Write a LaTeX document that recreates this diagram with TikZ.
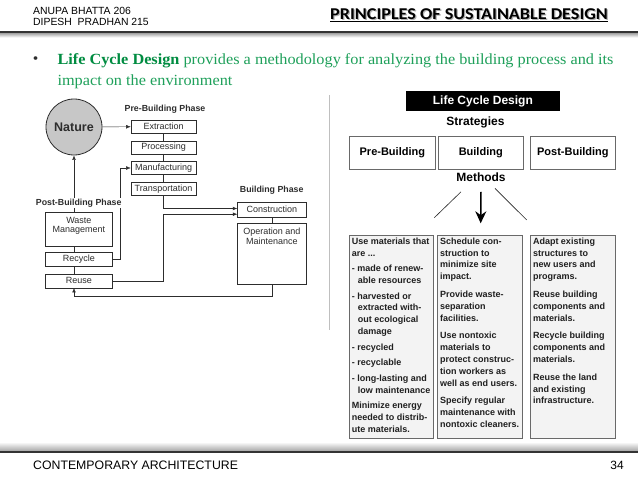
\documentclass[tikz,border=0pt]{standalone}
\usepackage{fontspec}
\setmainfont{Liberation Sans}
\newfontfamily\leadserif[FakeStretch=1.05]{Liberation Serif}
\newfontfamily\slidetitle[FakeStretch=1.1]{Carlito}
\usepackage{tikz}
\usetikzlibrary{arrows.meta,positioning,calc}
\usepackage{xcolor}
\definecolor{leafgreen}{RGB}{30,160,90}
\definecolor{leafdark}{RGB}{0,140,65}
\definecolor{inkgray}{RGB}{45,45,45}
\definecolor{panelgray}{RGB}{243,243,243}
\definecolor{rulegray}{RGB}{105,105,105}

\begin{document}
\begin{tikzpicture}[x=1pt, y=-1pt,
  node distance=7.5pt,
  stage/.style={draw=inkgray, fill=white, inner sep=0pt, minimum width=65.3pt,
                minimum height=12.8pt, font=\fontsize{9}{9.4}\selectfont, text=inkgray},
  phase/.style={inner sep=1pt, font=\bfseries\fontsize{8.8}{10}\selectfont, text=inkgray},
  inbox/.style={anchor=north, align=center, inner sep=5pt,
                font=\fontsize{9}{9.4}\selectfont, text=inkgray},
  strat/.style={draw=rulegray, semithick, inner sep=0pt, minimum width=85.5pt,
                minimum height=33.3pt, font=\bfseries\fontsize{11}{12}\selectfont},
  method/.style={draw=rulegray, semithick, fill=panelgray, inner sep=0pt,
                 minimum width=84.5pt, minimum height=202.5pt},
  methodtext/.style={anchor=north west, inner sep=2.6pt, align=left,
                 font=\bfseries\fontsize{9}{11.8}\selectfont, text=black!88},
  flow/.style={-{Latex[length=4.5pt,width=3.6pt]}, inkgray, thin},
  >=Stealth]
  \fill[white] (0,0) rectangle (638,479);
  \useasboundingbox (0,0) rectangle (638,479);

  % header and footer
  \node[anchor=west, inner sep=0pt, font=\fontsize{10.4}{11}\selectfont] (anupa) at (33,11) {ANUPA BHATTA 206};
  \node[anchor=west, inner sep=0pt, font=\fontsize{10.4}{11}\selectfont] (dipesh) at (33,22) {DIPESH\ \ PRADHAN 215};
  \node[anchor=east, inner sep=0pt, text=black!30, font=\slidetitle\bfseries\fontsize{16.5}{17}\selectfont]
    (titleshadow) at (609.2,15.2) {PRINCIPLES OF SUSTAINABLE DESIGN};
  \node[anchor=east, inner sep=0pt, font=\slidetitle\bfseries\fontsize{16.5}{17}\selectfont]
    (title) at (608,14) {PRINCIPLES OF SUSTAINABLE DESIGN};
  \draw[line width=1.2pt] ([yshift=-2.2pt]title.base west) -- ([yshift=-2.2pt]title.base east);
  \shade[top color=black!45, bottom color=white] (0,32) rectangle (638,37.5);
  \draw[line width=2.2pt, black!80] (0,31.7) -- (638,31.7);
  \shade[top color=white, bottom color=black!35] (0,442) rectangle (638,451);
  \draw[line width=2pt, black!80] (0,451.7) -- (638,451.7);
  \node[anchor=west, inner sep=0pt, font=\fontsize{12.3}{13}\selectfont] (course) at (33,465) {CONTEMPORARY ARCHITECTURE};
  \node[anchor=east, inner sep=0pt, font=\fontsize{12}{13}\selectfont] (pageno) at (624,465) {34};

  % lead text
  \node[inner sep=0pt, text=inkgray, font=\leadserif\fontsize{15}{16}\selectfont] (bullet) at (35.7,60) {•};
  \node[anchor=base west, inner sep=0pt, text=leafgreen, font=\leadserif\fontsize{15.5}{16}\selectfont]
    (leadone) at (57.3,64.3) {\textbf{\color{leafdark}Life Cycle Design} provides a methodology for analyzing the building process and its};
  \node[anchor=base west, inner sep=0pt, text=leafgreen, font=\leadserif\fontsize{15.5}{16}\selectfont]
    (leadtwo) at (57.3,85) {impact on the environment};

  % life cycle flow
  \draw[black!25] (329.5,95) -- (329.5,330);
  \node[circle, draw=inkgray, thick, fill=black!22, minimum size=56pt, inner sep=0pt,
        font=\bfseries\fontsize{12.5}{14}\selectfont, text=inkgray] (nature) at (74,127) {Nature};
  \node[stage, anchor=north west] (extraction) at (130.7,120) {Extraction};
  \node[stage, below=of extraction] (processing) {Processing};
  \node[stage, below=of processing] (manufacturing) {Manufacturing};
  \node[stage, below=of manufacturing] (transport) {Transportation};
  \node[phase] (prephase) at (165,109) {Pre-Building Phase};

  \node[stage, anchor=north west, minimum width=68.7pt, minimum height=14.4pt] (construction) at (237.3,202.3) {Construction};
  \node[stage, below=6pt of construction, minimum width=68.7pt, minimum height=61.3pt,
        label={[inbox]north:Operation and\\Maintenance}] (operation) {};
  \node[phase] (buildphase) at (271.7,190) {Building Phase};

  \node[stage, anchor=north west, minimum width=67.3pt, minimum height=34pt,
        label={[inbox]north:Waste\\Management}] (waste) at (45,211.7) {};
  \node[stage, below=6pt of waste, minimum width=67.3pt, minimum height=14pt] (recycle) {Recycle};
  \node[stage, below=7pt of recycle, minimum width=67.3pt, minimum height=14pt] (reuse) {Reuse};

  \draw[flow] (nature) -- (extraction);
  \draw[inkgray] (extraction) -- (processing) -- (manufacturing) -- (transport);
  \draw[inkgray] (construction) -- (operation);
  \draw[inkgray] (waste.south -| nature) -- (recycle.north -| nature);
  \draw[inkgray] (recycle.south -| nature) -- (reuse.north -| nature);
  \draw[flow] (transport.south) |- ([yshift=1.2pt]construction.west);
  \draw[flow] (reuse.east) -- (reuse.east -| transport.south) |- ([yshift=-4.5pt]construction.west);
  \draw[flow] (recycle.east) -- ++(7.7,0) |- (manufacturing.west);
  \draw[flow] (operation.south) -- ++(0,11) -| (reuse.south -| nature);
  \draw[flow] (waste.north -| nature) -- (nature);
  \node[phase, fill=white] (postphase) at (78.7,203.3) {Post-Building Phase};

  % strategies and methods
  \node[anchor=north west, fill=black, text=white, inner sep=0pt, minimum width=153.3pt, minimum height=20pt,
        font=\bfseries\fontsize{12}{13}\selectfont] (lcd) at (406,91) {Life Cycle Design};
  \node[inner sep=1pt, font=\bfseries\fontsize{12}{13}\selectfont] (strategies) at (475.5,122.7) {Strategies};
  \node[strat, anchor=north west] (prebuild) at (349.3,135.7) {Pre-Building};
  \node[strat, right=2.3pt of prebuild] (build) {Building};
  \node[strat, right=6pt of build] (postbuild) {Post-Building};
  \node[inner sep=1pt, font=\bfseries\fontsize{12}{13}\selectfont] (methods) at (481,177.5) {Methods};

  \coordinate (leftend) at (434.3,217.7);
  \coordinate (arrowend) at (480.7,223.3);
  \coordinate (rightend) at (526.7,220);
  \draw[black!85, semithick] ([xshift=-20pt,yshift=-8.7pt]methods.south) -- (leftend);
  \draw[black!85, semithick] ([xshift=14pt,yshift=-5.3pt]methods.south) -- (rightend);
  \draw[->, line width=1.5pt, >={Stealth[length=12pt,width=11pt]}] ([yshift=-8.7pt]methods.south) -- (arrowend);

  \node[method, anchor=north west, minimum width=84.3pt] (mpre) at (349,235) {};
  \node[method, right=3.4pt of mpre, minimum width=85pt] (mbuild) {};
  \node[method, right=7.3pt of mbuild, minimum width=84.3pt] (mpost) {};

  \node[methodtext] (mpretext) at (mpre.north west) {Use materials that\\
    are ...\\[3.8pt]
    - made of renew-\\
    \hspace*{6pt}able resources\\[3.8pt]
    - harvested or\\
    \hspace*{6pt}extracted with-\\
    \hspace*{6pt}out ecological\\
    \hspace*{6pt}damage\\[3.8pt]
    - recycled\\[3.8pt]
    - recyclable\\[3.8pt]
    - long-lasting and\\
    \hspace*{6pt}low maintenance\\[3.8pt]
    Minimize energy\\
    needed to distrib-\\
    ute materials.};
  \node[methodtext] (mbuildtext) at (mbuild.north west) {Schedule con-\\
    struction to\\
    minimize site\\
    impact.\\[6pt]
    Provide waste-\\
    separation\\
    facilities.\\[6pt]
    Use nontoxic\\
    materials to\\
    protect construc-\\
    tion workers as\\
    well as end users.\\[6pt]
    Specify regular\\
    maintenance with\\
    nontoxic cleaners.};
  \node[methodtext] (mposttext) at (mpost.north west) {Adapt existing\\
    structures to\\
    new users and\\
    programs.\\[6pt]
    Reuse building\\
    components and\\
    materials.\\[6pt]
    Recycle building\\
    components and\\
    materials.\\[6pt]
    Reuse the land\\
    and existing\\
    infrastructure.};
\end{tikzpicture}
\end{document}
